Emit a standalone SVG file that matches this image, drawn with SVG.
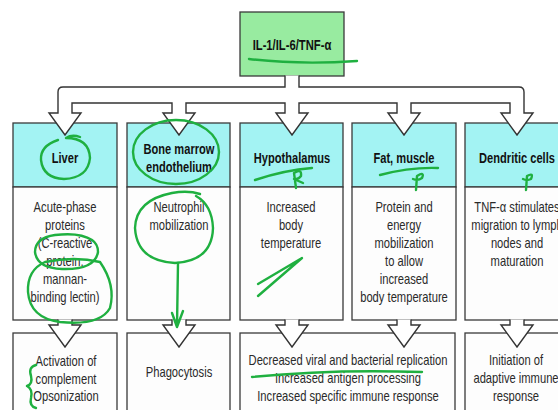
<svg xmlns="http://www.w3.org/2000/svg" width="558" height="410" viewBox="0 0 558 410">
<style>
.hdr{fill:#a3f3f3;stroke:#3a3a3a;stroke-width:1.3}
.bdy{fill:#fdfdfd;stroke:#3a3a3a;stroke-width:1.3}
.top{fill:#98eba0;stroke:#3a3a3a;stroke-width:1.3}
.hd{font-family:"Liberation Sans",Arial,sans-serif;font-weight:bold;font-size:15px;fill:#111;text-anchor:middle}
.tx{font-family:"Liberation Sans",Arial,sans-serif;font-size:14px;fill:#2a2a2a;text-anchor:middle}
.pipe{fill:#fff;stroke:#333;stroke-width:1.4;stroke-linejoin:miter}
.ink{fill:none;stroke:#1fb040;stroke-width:2.4;stroke-linecap:round;stroke-linejoin:round}
</style>
<rect width="558" height="410" fill="#fff"/>

<g id="liver">
<rect class="hdr" x="13" y="123" width="104" height="64"/>
<rect class="bdy" x="13" y="187" width="104" height="133"/>
<g transform="translate(65 0) scale(0.74 1)"><text class="hd" x="0" y="163">Liver</text></g>
<g transform="translate(65 0) scale(0.8 1)">
<text class="tx" x="0" y="212">Acute-phase</text>
<text class="tx" x="0" y="230">proteins</text>
<text class="tx" x="0" y="248">(C-reactive</text>
<text class="tx" x="0" y="266">protein,</text>
<text class="tx" x="0" y="284">mannan-</text>
<text class="tx" x="0" y="302">binding  lectin)</text>
</g>
</g>

<g id="bone-marrow">
<rect class="hdr" x="127" y="123" width="103" height="64"/>
<rect class="bdy" x="127" y="187" width="103" height="133"/>
<g transform="translate(179 0) scale(0.74 1)"><text class="hd" x="0" y="154">Bone marrow</text><text class="hd" x="0" y="172">endothelium</text></g>
<g transform="translate(179 0) scale(0.8 1)">
<text class="tx" x="0" y="212">Neutrophil</text>
<text class="tx" x="0" y="230">mobilization</text>
</g>
</g>

<g id="hypothalamus">
<rect class="hdr" x="240" y="123" width="103" height="64"/>
<rect class="bdy" x="240" y="187" width="103" height="133"/>
<g transform="translate(292 0) scale(0.74 1)"><text class="hd" x="0" y="163">Hypothalamus</text></g>
<g transform="translate(291 0) scale(0.8 1)">
<text class="tx" x="0" y="212">Increased</text>
<text class="tx" x="0" y="230">body</text>
<text class="tx" x="0" y="248">temperature</text>
</g>
</g>

<g id="fat-muscle">
<rect class="hdr" x="352" y="123" width="104" height="64"/>
<rect class="bdy" x="352" y="187" width="104" height="133"/>
<g transform="translate(404 0) scale(0.74 1)"><text class="hd" x="0" y="163">Fat,  muscle</text></g>
<g transform="translate(404 0) scale(0.8 1)">
<text class="tx" x="0" y="212">Protein  and</text>
<text class="tx" x="0" y="230">energy</text>
<text class="tx" x="0" y="248">mobilization</text>
<text class="tx" x="0" y="266">to  allow</text>
<text class="tx" x="0" y="284">increased</text>
<text class="tx" x="0" y="302">body  temperature</text>
</g>
</g>

<g id="dendritic-cells">
<rect class="hdr" x="465" y="123" width="110" height="64"/>
<rect class="bdy" x="465" y="187" width="110" height="133"/>
<g transform="translate(517 0) scale(0.74 1)"><text class="hd" x="0" y="163">Dendritic cells</text></g>
<g transform="translate(517 0) scale(0.8 1)">
<text class="tx" x="0" y="212">TNF-α stimulates</text>
<text class="tx" x="0" y="230">migration to lymph</text>
<text class="tx" x="0" y="248">nodes and</text>
<text class="tx" x="0" y="266">maturation</text>
</g>
</g>

<g id="liver-effect">
<rect class="bdy" x="13" y="333" width="104" height="90"/>
<g transform="translate(66 0) scale(0.8 1)">
<text class="tx" x="0" y="366">Activation of</text>
<text class="tx" x="0" y="384">complement</text>
<text class="tx" x="0" y="401">Opsonization</text>
</g>
</g>

<g id="bone-marrow-effect">
<rect class="bdy" x="127" y="333" width="103" height="90"/>
<g transform="translate(179 0) scale(0.8 1)"><text class="tx" x="0" y="377">Phagocytosis</text></g>
</g>

<g id="hypothalamus-fat-effect">
<rect class="bdy" x="240" y="333" width="215" height="90"/>
<g transform="translate(348 0) scale(0.8 1)">
<text class="tx" x="0" y="365">Decreased  viral  and  bacterial  replication</text>
<text class="tx" x="0" y="383">Increased  antigen  processing</text>
<text class="tx" x="0" y="401">Increased  specific  immune  response</text>
</g>
</g>

<g id="dendritic-effect">
<rect class="bdy" x="465" y="333" width="110" height="90"/>
<g transform="translate(516 0) scale(0.8 1)">
<text class="tx" x="0" y="365">Initiation of</text>
<text class="tx" x="0" y="383">adaptive immune</text>
<text class="tx" x="0" y="401">response</text>
</g>
</g>

<g id="il-tnf">
<rect class="top" x="240" y="12" width="104" height="64"/>
<g transform="translate(292 0) scale(0.75 1)"><text class="hd" x="0" y="50">IL-1/IL-6/TNF-α</text></g>
</g>

<g id="connectors">
<path class="pipe" d="M285,75.5 V87 H63 Q58,87 58,92 V113 H49 L65,135 L81,113 H72 V103 H172 V113 H163 L179,135 L195,113 H186 V103 H285 V113 H276 L292,135 L308,113 H299 V103 H397 V113 H388 L404,135 L420,113 H411 V103 H510 V113 H501 L517,135 L533,113 H524 V92 Q524,87 519,87 H299 V75.5"/>
<path class="pipe" d="M58,319.5 V325 H49 L65,347 L81,325 H72 V319.5"/>
<path class="pipe" d="M172,319.5 V325 H163 L179,347 L195,325 H186 V319.5"/>
<path class="pipe" d="M285,319.5 V325 H276 L292,347 L308,325 H299 V319.5"/>
<path class="pipe" d="M397,319.5 V325 H388 L404,347 L420,325 H411 V319.5"/>
<path class="pipe" d="M510,319.5 V325 H501 L517,347 L533,325 H524 V319.5"/>
</g>

<g id="annotations">
<path class="ink" d="M249,59 Q300,65 357,61"/>
<path class="ink" d="M58,140 Q40,146 41,160 Q43,178 64,179 Q88,178 90,158 Q89,138 66,138 Q72,134 80,137"/>
<ellipse class="ink" cx="176" cy="152" rx="43" ry="32"/>
<path class="ink" d="M200,194 Q188,190 172,193 Q136,200 135,228 Q137,261 175,263 Q212,261 213,228 Q212,205 196,196"/>
<path class="ink" d="M178,263 L177,326 M172,313 L177,327 L183,311"/>
<path class="ink" d="M92,240 Q80,232 55,235 Q35,238 35,252 Q37,268 62,269 Q95,270 98,252 Q98,244 92,240"/>
<path class="ink" d="M100,262 Q75,256 45,262 Q27,270 28,292 Q30,318 60,322 Q100,326 110,308 Q116,285 100,262"/>
<path class="ink" d="M255,180 Q285,170 312,168"/>
<path class="ink" d="M296,188 L294,173 Q302,168 301,176 Q298,180 294,179 L303,183"/>
<path class="ink" d="M380,175 Q410,167 438,168"/>
<path class="ink" d="M416,190 L417,176 Q425,171 422,178 Q418,181 413,179"/>
<path class="ink" d="M526,190 L527,176 Q534,172 531,179 Q527,181 523,179"/>
<path class="ink" d="M258,284 L302,258 L258,296"/>
<path class="ink" d="M36,365 Q28,367 31,376 Q33,384 27,386 Q33,389 31,398 Q29,406 36,408"/>
<path class="ink" d="M252,377 Q330,369 422,372"/>
</g>
</svg>
